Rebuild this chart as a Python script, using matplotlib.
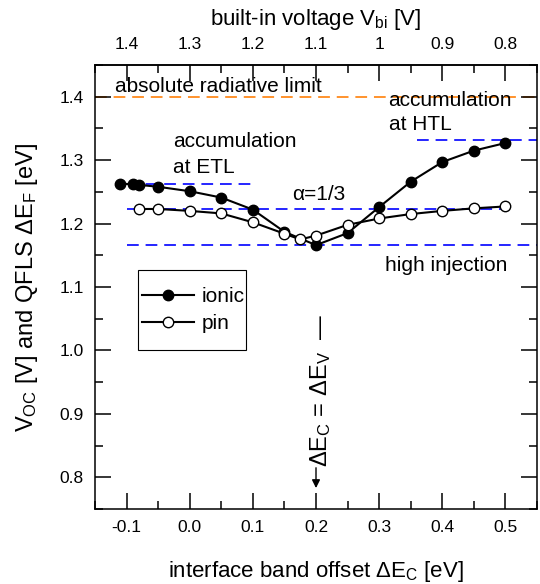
import matplotlib

matplotlib.use("Agg")
import matplotlib.pyplot as plt
from matplotlib.patches import Rectangle
from matplotlib.ticker import MultipleLocator, FixedLocator, FormatStrFormatter

plt.rcParams["font.family"] = ["Liberation Sans", "DejaVu Sans"]
plt.rcParams["mathtext.fontset"] = "custom"
plt.rcParams["mathtext.rm"] = "Liberation Sans"
plt.rcParams["mathtext.it"] = "Liberation Sans:italic"
plt.rcParams["axes.unicode_minus"] = False

# ionic model (filled circles)
ionic_dEc = [-0.11, -0.09, -0.08, -0.05, 0.0, 0.05, 0.10, 0.15, 0.20, 0.25, 0.30, 0.35, 0.40, 0.45, 0.50]
ionic_voc = [1.263, 1.262, 1.261, 1.258, 1.251, 1.241, 1.222, 1.187, 1.166, 1.185, 1.226, 1.266, 1.297, 1.315, 1.327]

# pin model (open circles)
pin_dEc = [-0.08, -0.05, 0.0, 0.05, 0.10, 0.15, 0.175, 0.20, 0.25, 0.30, 0.35, 0.40, 0.45, 0.50]
pin_voc = [1.223, 1.223, 1.220, 1.216, 1.202, 1.184, 1.175, 1.181, 1.198, 1.208, 1.215, 1.220, 1.224, 1.227]

# reference levels: (y, x_start, x_end)
rad_limit = 1.40
etl_level = (1.263, -0.10, 0.10)
alpha_level = (1.223, -0.10, 0.50)
high_inj_level = (1.167, -0.10, 0.55)
htl_level = (1.332, 0.36, 0.55)

dEc_ticks = [-0.1, 0.0, 0.1, 0.2, 0.3, 0.4, 0.5]
vbi_ticks = [1.4, 1.3, 1.2, 1.1, 1.0, 0.9, 0.8]
vbi_labels = ["1.4", "1.3", "1.2", "1.1", "1", "0.9", "0.8"]
voc_ticks = [0.8, 0.9, 1.0, 1.1, 1.2, 1.3, 1.4]
vbi_offset = 1.3  # V_bi = 1.3 - dEc

fig = plt.figure(figsize=(5.4, 5.84), dpi=100)
ax = fig.add_axes([95 / 540, 75 / 584, 442 / 540, 444 / 584])

blue = "#1414ff"
dash = (0, (6.5, 3.8))
ax.axhline(rad_limit, color="#ff8a1c", lw=1.3, linestyle=dash, zorder=1)
for y, x0, x1 in [etl_level, alpha_level, high_inj_level, htl_level]:
    ax.plot([x0, x1], [y, y], color=blue, lw=1.3, linestyle=dash, zorder=1)

ax.plot(ionic_dEc, ionic_voc, "-o", color="black", lw=1.5, ms=7.5,
        mfc="black", mec="black", label="ionic", zorder=3)
ax.plot(pin_dEc, pin_voc, "-o", color="black", lw=1.5, ms=7.5,
        mfc="white", mec="black", mew=1.0, label="pin", zorder=3)

ax.set_xlim(-0.15, 0.55)
ax.set_ylim(0.75, 1.45)
ax.xaxis.set_major_locator(FixedLocator(dEc_ticks))
ax.xaxis.set_minor_locator(MultipleLocator(0.05))
ax.yaxis.set_major_locator(FixedLocator(voc_ticks))
ax.yaxis.set_minor_locator(MultipleLocator(0.05))
ax.xaxis.set_major_formatter(FormatStrFormatter("%.1f"))
ax.yaxis.set_major_formatter(FormatStrFormatter("%.1f"))
ax.tick_params(which="both", direction="in", width=1.1, labelsize=12.5,
               top=False, right=True)
ax.tick_params(which="major", length=11.5, pad=8)
ax.tick_params(which="minor", length=5.8)
for s in ax.spines.values():
    s.set_linewidth(1.1)

ax.set_xlabel(r"interface band offset $\Delta$E$_\mathrm{C}$ [eV]", fontsize=16, labelpad=17)
ax.set_ylabel(r"V$_\mathrm{OC}$ [V] and QFLS $\Delta$E$_\mathrm{F}$ [eV]", fontsize=17, labelpad=14)

top = ax.secondary_xaxis("top", functions=(lambda x: vbi_offset - x, lambda v: vbi_offset - v))
top.set_xticks(vbi_ticks, labels=vbi_labels)
top.xaxis.set_minor_locator(MultipleLocator(0.05))
top.tick_params(which="both", direction="in", width=1.1, labelsize=12.5)
top.tick_params(which="major", length=11.5, pad=9)
top.tick_params(which="minor", length=5.8)
top.spines["top"].set_linewidth(1.1)
top.set_xlabel(r"built-in voltage V$_\mathrm{bi}$ [V]", fontsize=16, labelpad=9)

fs = 15
ax.text(-0.118, 1.408, "absolute radiative limit", fontsize=fs, va="baseline")
ax.text(-0.027, 1.320, "accumulation", fontsize=fs, va="baseline")
ax.text(-0.027, 1.280, "at ETL", fontsize=fs, va="baseline")
ax.text(0.315, 1.386, "accumulation", fontsize=fs, va="baseline")
ax.text(0.315, 1.348, "at HTL", fontsize=fs, va="baseline")
ax.text(0.162, 1.237, "α=1/3", fontsize=fs, va="baseline")
ax.text(0.31, 1.126, "high injection", fontsize=fs, va="baseline")

ax.text(0.207, 0.937, r"$\Delta$E$_\mathrm{C}$ = $\Delta$E$_\mathrm{V}$  —", fontsize=17,
        rotation=90, ha="center", va="center")
ax.annotate("", xy=(0.2, 0.783), xytext=(0.2, 0.815),
            arrowprops=dict(arrowstyle="-|>", color="black", lw=1.0,
                            mutation_scale=12, shrinkA=0, shrinkB=0))

# legend box drawn separately: wide vertical padding, tight sides
ax.add_patch(Rectangle((0.097, 0.358), 0.245, 0.18, transform=ax.transAxes,
                       facecolor="white", edgecolor="black", lw=0.8, zorder=4))
leg = ax.legend(loc="center", bbox_to_anchor=(0.222, 0.448), fontsize=15,
                frameon=False, handlelength=2.5, borderpad=0, labelspacing=0.4,
                handletextpad=0.35, borderaxespad=0)
leg.set_zorder(5)

fig.savefig("out.png", dpi=100)
